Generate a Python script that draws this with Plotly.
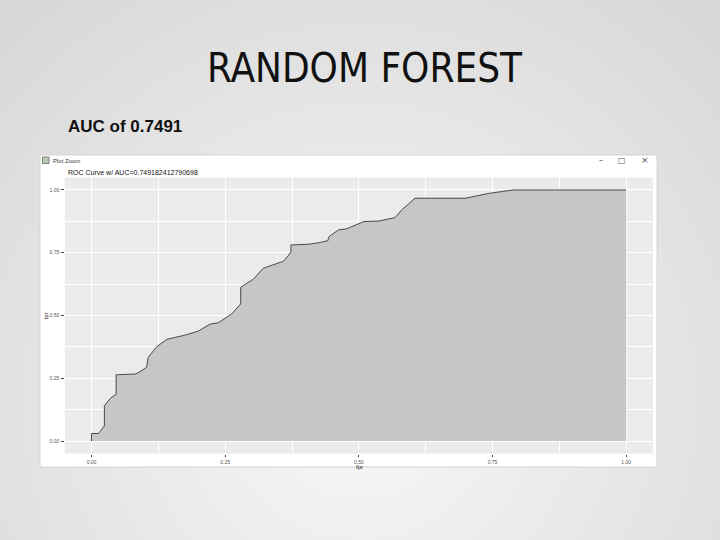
import base64
import plotly.graph_objects as go

# ROC curve points
fpr = [0.0, 0.0, 0.013, 0.024, 0.024, 0.035, 0.046, 0.046, 0.083, 0.103, 0.106,
       0.122, 0.141, 0.175, 0.200, 0.222, 0.237, 0.262, 0.279, 0.279, 0.290,
       0.303, 0.321, 0.334, 0.359, 0.368, 0.373, 0.373, 0.407, 0.428, 0.442,
       0.444, 0.462, 0.477, 0.509, 0.537, 0.568, 0.580, 0.605, 0.699, 0.745,
       0.789, 1.0]
tpr = [0.0, 0.030, 0.030, 0.060, 0.140, 0.170, 0.186, 0.264, 0.267, 0.293, 0.333,
       0.376, 0.405, 0.422, 0.438, 0.466, 0.471, 0.506, 0.546, 0.612, 0.628,
       0.645, 0.688, 0.698, 0.716, 0.738, 0.754, 0.781, 0.784, 0.791, 0.798,
       0.814, 0.841, 0.845, 0.874, 0.876, 0.890, 0.920, 0.967, 0.967, 0.987,
       1.0, 1.0]

tick_vals = [0.0, 0.25, 0.5, 0.75, 1.0]
tick_text = ["0.00", "0.25", "0.50", "0.75", "1.00"]

slide_title = "RANDOM FOREST"
subtitle = "AUC of 0.7491"
plot_title = "ROC Curve w/ AUC=0.749182412790698"
window_title = "Plot Zoom"

W, H = 720, 540


def px(x):
    return x / W


def py(y):
    return 1 - y / H


svg = ('<svg xmlns="http://www.w3.org/2000/svg" width="720" height="540" viewBox="0 0 720 540">'
       '<defs><radialGradient id="g" cx="360" cy="400" r="600" gradientUnits="userSpaceOnUse">'
       '<stop offset="0" stop-color="#f8f8f8"/><stop offset="1" stop-color="#d2d2d2"/>'
       '</radialGradient></defs><rect width="720" height="540" fill="url(#g)"/></svg>')
bg_src = "data:image/svg+xml;base64," + base64.b64encode(svg.encode()).decode()

fig = go.Figure()
fig.add_trace(go.Scatter(
    x=fpr, y=tpr, mode="lines", fill="tozeroy",
    fillcolor="#c6c6c6", line=dict(color="#4a4a4a", width=1),
    hoverinfo="x+y", showlegend=False))

axis_common = dict(
    range=[-0.05, 1.05], tickvals=tick_vals, ticktext=tick_text,
    showgrid=True, gridcolor="#ffffff", gridwidth=1, zeroline=False,
    showline=False, ticks="outside", ticklen=2.5, tickwidth=0.6,
    tickcolor="#444444", tickfont=dict(size=5, color="#555555",
                                        family="Liberation Sans, Arial, sans-serif"),
    minor=dict(dtick=0.125, tick0=0, showgrid=True, gridcolor="#ffffff", gridwidth=0.5),
    fixedrange=True,
)

fig.update_layout(
    width=W, height=H, margin=dict(l=0, r=0, t=0, b=0),
    paper_bgcolor="#e8e8e8", plot_bgcolor="rgba(0,0,0,0)",
    xaxis=dict(domain=[px(64.8), px(652.9)], ticklabelstandoff=1, **axis_common),
    yaxis=dict(domain=[py(453.6), py(177.4)], ticklabelstandoff=1, **axis_common),
    images=[dict(source=bg_src, xref="paper", yref="paper", x=0, y=1,
                 sizex=1, sizey=1, xanchor="left", yanchor="top",
                 sizing="stretch", layer="below")],
    shapes=[
        # plot window
        dict(type="rect", xref="paper", yref="paper", x0=px(40), x1=px(657),
             y0=py(467), y1=py(155), fillcolor="#ffffff",
             line=dict(color="#d4d4d4", width=1), layer="below"),
        # window icon
        dict(type="rect", xref="paper", yref="paper", x0=px(42.5), x1=px(49),
             y0=py(163.5), y1=py(157), fillcolor="#b9c8b0",
             line=dict(color="#6a6a6a", width=0.8), layer="below"),
        # panel background
        dict(type="rect", xref="x domain", yref="y domain", x0=0, x1=1, y0=0, y1=1,
             fillcolor="#ebebeb", line=dict(width=0), layer="below"),
    ],
    annotations=[
        dict(text=slide_title, xref="paper", yref="paper", x=px(365), y=py(68),
             xanchor="center", yanchor="middle", showarrow=False,
             font=dict(size=40, color="#111111",
                       family="Liberation Sans Narrow, Arial Narrow, DejaVu Sans Condensed, sans-serif")),
        dict(text="<b>" + subtitle + "</b>", xref="paper", yref="paper", x=px(66), y=py(126),
             xanchor="left", yanchor="middle", showarrow=False,
             font=dict(size=17, color="#111111",
                       family="Liberation Sans Narrow, Arial Narrow, sans-serif")),
        dict(text=window_title, xref="paper", yref="paper", x=px(51), y=py(160.5),
             xanchor="left", yanchor="middle", showarrow=False,
             font=dict(size=6, color="#333333", family="Liberation Sans, Arial, sans-serif")),
        dict(text="–", xref="paper", yref="paper", x=px(601), y=py(160),
             xanchor="center", yanchor="middle", showarrow=False,
             font=dict(size=8, color="#555555", family="DejaVu Sans, sans-serif")),
        dict(text="□", xref="paper", yref="paper", x=px(622), y=py(160),
             xanchor="center", yanchor="middle", showarrow=False,
             font=dict(size=8, color="#555555", family="DejaVu Sans, sans-serif")),
        dict(text="×", xref="paper", yref="paper", x=px(645), y=py(160),
             xanchor="center", yanchor="middle", showarrow=False,
             font=dict(size=9, color="#555555", family="DejaVu Sans, sans-serif")),
        dict(text=plot_title, xref="paper", yref="paper", x=px(65.5), y=py(172),
             xanchor="left", yanchor="middle", showarrow=False,
             font=dict(size=7, color="#111111", family="Liberation Sans, Arial, sans-serif")),
        dict(text="fpr", xref="paper", yref="paper", x=px(359), y=py(467),
             xanchor="center", yanchor="middle", showarrow=False,
             font=dict(size=6, color="#222222", family="Liberation Sans, Arial, sans-serif")),
        dict(text="tpr", xref="paper", yref="paper", x=px(45.5), y=py(316),
             xanchor="center", yanchor="middle", showarrow=False, textangle=-90,
             font=dict(size=6, color="#222222", family="Liberation Sans, Arial, sans-serif")),
    ],
)

fig.write_html("out.html",
               config={"displayModeBar": False},
               post_script="document.body.style.margin='0';document.documentElement.style.margin='0';")
